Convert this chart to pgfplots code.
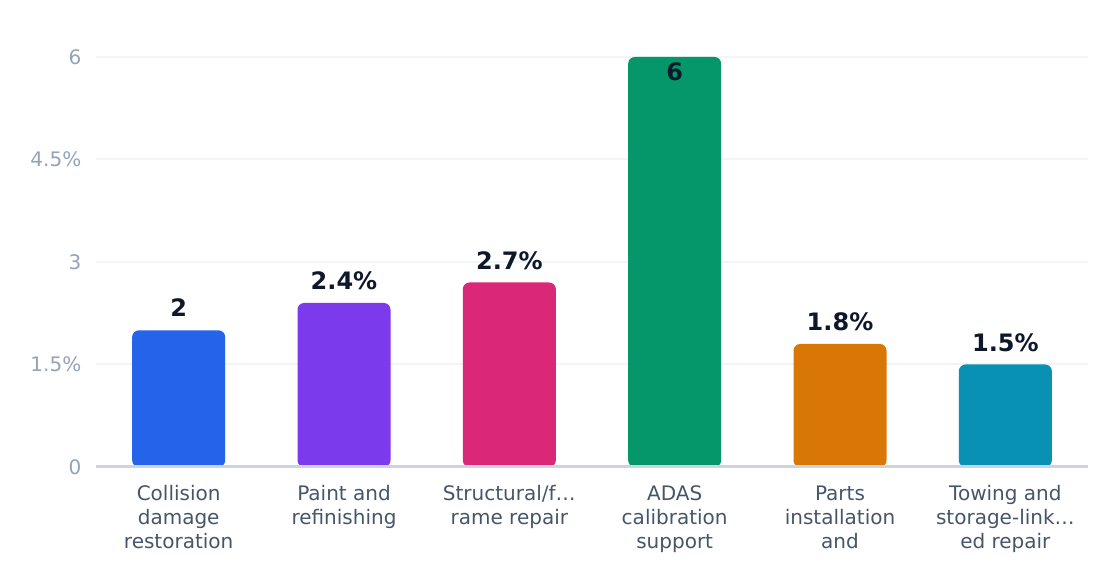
\documentclass[border=0pt]{standalone}
\usepackage{fontspec}
\setmainfont{DejaVu Sans}
\usepackage{pgfplots}
\pgfplotsset{compat=1.18}

\definecolor{cBlue}{HTML}{2563EB}
\definecolor{cPurple}{HTML}{7C3AED}
\definecolor{cPink}{HTML}{DB2777}
\definecolor{cGreen}{HTML}{059669}
\definecolor{cOrange}{HTML}{D97706}
\definecolor{cCyan}{HTML}{0891B2}
\definecolor{cValue}{HTML}{0F172A}
\definecolor{cXlab}{HTML}{475569}
\definecolor{cYlab}{HTML}{94A3B8}
\definecolor{cGrid}{HTML}{F1F5F9}
\definecolor{cBase}{HTML}{CBD5E1}

\begin{document}
\begin{tikzpicture}
\begin{axis}[
    at={(0,0)}, anchor=south west,
    scale only axis,
    width=744pt, height=328pt,
    xmin=-0.5, xmax=5.5, ymin=0, ymax=6.4,
    axis line style={draw=none},
    tick style={draw=none},
    ytick={0,1.5,3,4.5,6},
    yticklabels={0,1.5\%,3,4.5\%,6},
    xtick={0,1,2,3,4,5},
    xticklabels={
        \strut Collision\\damage\\restoration,
        \strut Paint and\\refinishing,
        \strut Structural/f…\\rame repair,
        \strut ADAS\\calibration\\support,
        \strut Parts\\installation\\and,
        \strut Towing and\\storage-link…\\ed repair},
    ymajorgrids,
    grid style={color=cGrid, line width=1.5pt},
    /pgf/number format/assume math mode=true,
    yticklabel style={font=\fontsize{15}{18}\selectfont, text=cYlab, xshift=-7.5pt},
    xticklabel style={font=\fontsize{15}{18}\selectfont, text=cXlab, align=center,
        anchor=north, yshift=-9pt},
    clip=false,
]
% one bar per category, each in its own colour
\addplot[ybar, bar width=69.75pt, fill=cBlue, draw=none, rounded corners=5pt] coordinates {(0,2)};
\addplot[ybar, bar width=69.75pt, fill=cPurple, draw=none, rounded corners=5pt] coordinates {(1,2.4)};
\addplot[ybar, bar width=69.75pt, fill=cPink, draw=none, rounded corners=5pt] coordinates {(2,2.7)};
\addplot[ybar, bar width=69.75pt, fill=cGreen, draw=none, rounded corners=5pt] coordinates {(3,6)};
\addplot[ybar, bar width=69.75pt, fill=cOrange, draw=none, rounded corners=5pt] coordinates {(4,1.8)};
\addplot[ybar, bar width=69.75pt, fill=cCyan, draw=none, rounded corners=5pt] coordinates {(5,1.5)};

\draw[cBase, line width=2.25pt] (axis cs:-0.5,0) -- (axis cs:5.5,0);

% value labels
\tikzset{vlab/.style={anchor=base, text=cValue, font=\fontsize{18}{21}\selectfont\bfseries}}
\node[vlab, yshift=10pt] at (axis cs:0,2) {2};
\node[vlab, yshift=10pt] at (axis cs:1,2.4) {2.4\%};
\node[vlab, yshift=10pt] at (axis cs:2,2.7) {2.7\%};
\node[vlab, yshift=-18pt] at (axis cs:3,6) {6};
\node[vlab, yshift=10pt] at (axis cs:4,1.8) {1.8\%};
\node[vlab, yshift=10pt] at (axis cs:5,1.5) {1.5\%};
\end{axis}
\pgfresetboundingbox
\path (-72pt,-87.75pt) rectangle (768pt,350.25pt);
\end{tikzpicture}
\end{document}
